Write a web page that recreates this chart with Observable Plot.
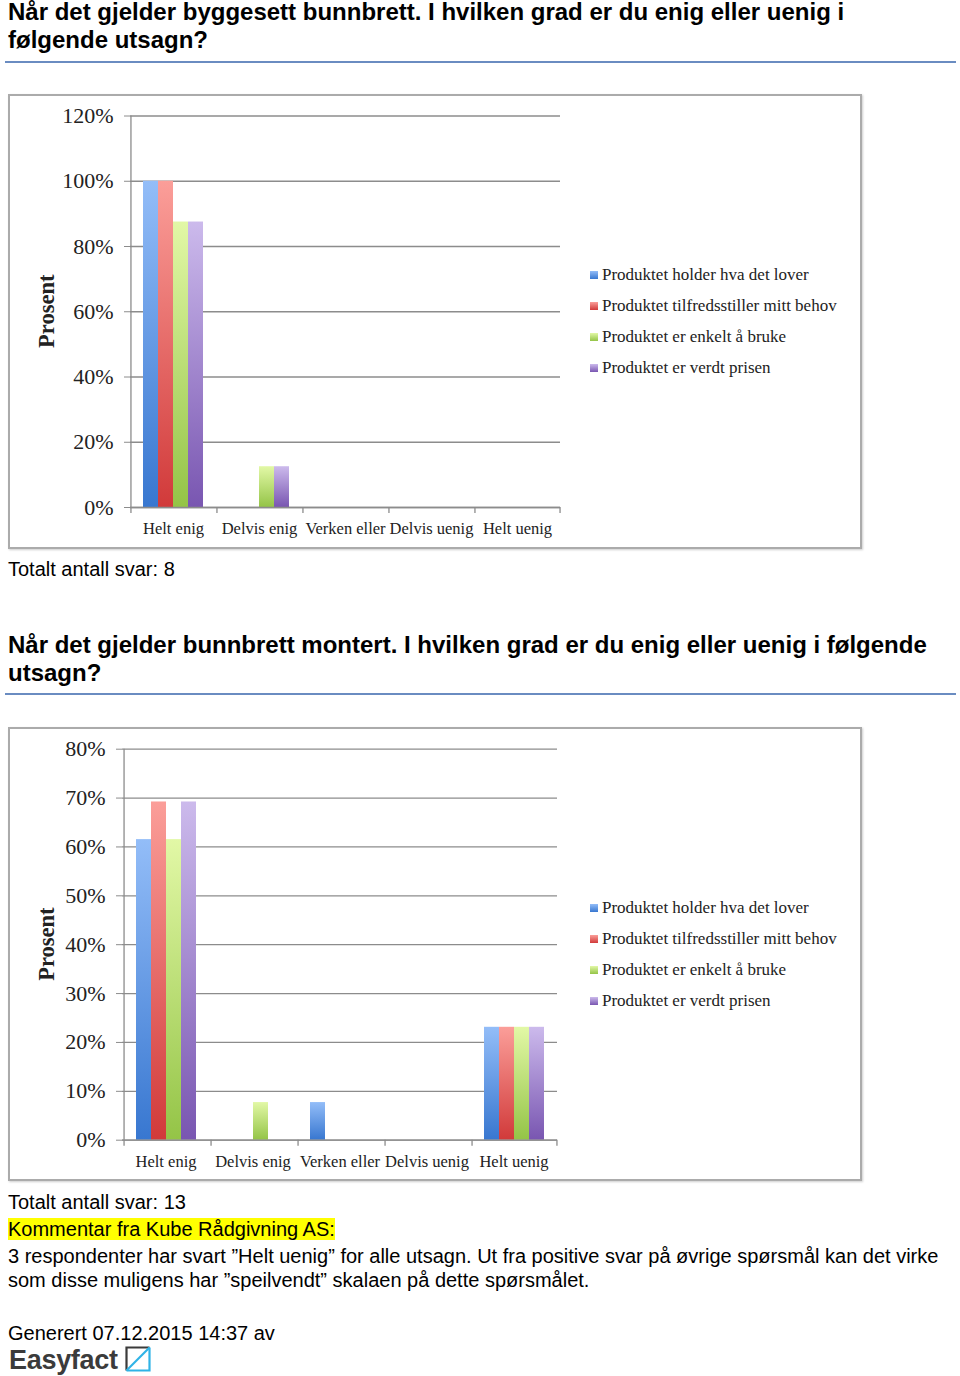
<!DOCTYPE html>
<html>
<head>
<meta charset="utf-8">
<script src="https://cdn.jsdelivr.net/npm/d3@7"></script>
<script src="https://cdn.jsdelivr.net/npm/@observablehq/plot@0.6"></script>
<style>
  html, body { margin: 0; padding: 0; background: #fff; }
  body { position: relative; width: 960px; height: 1376px; font-family: "Liberation Sans", Arial, sans-serif; color: #000; overflow: hidden; }
  .abs { position: absolute; }
  .title { left: 8px; width: 945px; font-weight: bold; font-size: 24px; line-height: 28px; white-space: nowrap; }
  .hr { left: 5px; width: 951px; height: 2px; background: #6a8cc1; }
  .box { left: 8px; width: 854px; background: #fff; }
  .box::after { content: ""; position: absolute; inset: 0; border: 2px solid #ababab; box-shadow: 1px 1px 2px rgba(0,0,0,0.2); pointer-events: none; }
  .box svg { position: absolute; left: 0; top: 0; }
  .note { left: 8px; font-size: 20px; line-height: 24px; white-space: nowrap; }
  .hl { background: #ffff00; }
  .legend { position: absolute; left: 582px; font-family: "Liberation Serif", serif; font-size: 17px; color: #222; }
  .legend .row { position: absolute; left: 0; height: 20px; line-height: 20px; white-space: nowrap; }
  .legend .sw { position: absolute; left: 0; top: 6px; }
  .legend .lbl { position: absolute; left: 12px; top: 0; }
  .logo { left: 9px; top: 1343px; font-weight: bold; font-size: 27px; line-height: 34px; color: #3b3b3b; letter-spacing: -0.3px; }
</style>
</head>
<body>
<script>
// ---------- data ----------
const categories = ["Helt enig", "Delvis enig", "Verken eller", "Delvis uenig", "Helt uenig"];
const seriesNames = [
  "Produktet holder hva det lover",
  "Produktet tilfredsstiller mitt behov",
  "Produktet er enkelt å bruke",
  "Produktet er verdt prisen"
];
// Chart 1: byggesett bunnbrett (n = 8), percent per category
const byggHolder    = [100, 0, 0, 0, 0];
const byggTilfreds  = [100, 0, 0, 0, 0];
const byggEnkelt    = [87.5, 12.5, 0, 0, 0];
const byggVerdt     = [87.5, 12.5, 0, 0, 0];
// Chart 2: bunnbrett montert (n = 13)
const montHolder    = [61.5, 0, 7.7, 0, 23.1];
const montTilfreds  = [69.2, 0, 0, 0, 23.1];
const montEnkelt    = [61.5, 7.7, 0, 0, 23.1];
const montVerdt     = [69.2, 0, 0, 0, 23.1];
const yTicks1 = [0, 20, 40, 60, 80, 100, 120];
const yTicks2 = [0, 10, 20, 30, 40, 50, 60, 70, 80];

const gradTop    = ["#93bdf8", "#fb9e99", "#e2f8a6", "#ccbaec"];
const gradBottom = ["#3877d0", "#d13a3a", "#94c447", "#7956b1"];

// ---------- helpers ----------
function addGradients(svg, id) {
  const defs = d3.select(svg).insert("defs", ":first-child");
  gradTop.forEach((top, i) => {
    const g = defs.append("linearGradient").attr("id", `${id}-g${i}`)
      .attr("x1", 0).attr("y1", 0).attr("x2", 0).attr("y2", 1);
    g.append("stop").attr("offset", "0%").attr("stop-color", top);
    g.append("stop").attr("offset", "100%").attr("stop-color", gradBottom[i]);
  });
}

function buildChart(parent, id, values, yMax, yTicks, m) {
  const rows = [];
  categories.forEach((c, ci) => seriesNames.forEach((s, si) => {
    const v = values[si][ci];
    if (v > 0) rows.push({category: c, series: s, value: v});
  }));
  const W = 854, H = m.height;
  const facetW = (W - m.left - m.right) / categories.length;
  const step = facetW / (seriesNames.length + 2 * m.pad);
  const edge = step * m.pad + step / 2;
  const axisColor = "#8c8c8c";
  const plot = Plot.plot({
    width: W, height: H,
    marginLeft: m.left, marginRight: m.right, marginTop: m.top, marginBottom: m.bottom,
    style: {fontFamily: '"Liberation Serif", serif', fontSize: "16px", color: "#222", background: "transparent", overflow: "visible"},
    fx: {domain: categories, padding: 0, label: null},
    x: {domain: seriesNames, paddingInner: 0, paddingOuter: m.pad, align: 0.5, axis: null},
    y: {domain: [0, yMax], label: null},
    color: {domain: seriesNames, range: seriesNames.map((_, i) => `url(#${id}-g${i})`)},
    marks: [
      Plot.gridY(yTicks, {stroke: axisColor, strokeOpacity: 1, strokeWidth: 1.3}),
      Plot.axisY(yTicks, {tickFormat: d => d + "%", tickSize: 6, tickPadding: 11, fontSize: 22, stroke: axisColor, fill: "#222", label: null}),
      Plot.axisFx({anchor: "bottom", tickSize: 0, tickPadding: 15, fontSize: 16.5, fill: "#222", label: null}),
      Plot.barY(rows, {fx: "category", x: "series", y: "value", fill: "series"}),
      Plot.ruleY([0], {stroke: axisColor, strokeWidth: 1.3}),
      Plot.ruleX([categories[0]], {fx: d => d, x: () => seriesNames[0], y1: 0, y2: yMax, dx: -edge, stroke: axisColor, strokeWidth: 1.3}),
      Plot.ruleX(categories, {fx: d => d, x: () => seriesNames[0], y1: 0, y2: 0, insetTop: 6, dx: -edge, stroke: axisColor, strokeWidth: 1.3}),
      Plot.ruleX([categories[categories.length - 1]], {fx: d => d, x: () => seriesNames[seriesNames.length - 1], y1: 0, y2: 0, insetTop: 6, dx: edge, stroke: axisColor, strokeWidth: 1.3})
    ]
  });
  addGradients(plot, id);
  // y axis title
  d3.select(plot).append("text")
    .attr("transform", `translate(38,${m.top + (H - m.top - m.bottom) / 2}) rotate(-90)`)
    .attr("text-anchor", "middle").attr("dy", "0.35em")
    .attr("font-family", '"Liberation Serif", serif').attr("font-weight", "bold")
    .attr("font-size", 22.5).attr("fill", "#222").text("Prosent");
  parent.appendChild(plot);

  // legend
  const leg = document.createElement("div");
  leg.className = "legend";
  leg.style.top = "0px";
  const rowsY = [181, 212, 243, 274];
  seriesNames.forEach((s, i) => {
    const r = document.createElement("div");
    r.className = "row";
    r.style.top = (rowsY[i] - 10) + "px";
    r.innerHTML = `<svg class="sw" width="8" height="8"><rect width="8" height="8" fill="url(#${id}-g${i})"/></svg><span class="lbl">${s}</span>`;
    leg.appendChild(r);
  });
  parent.appendChild(leg);
}

function el(cls, top, html, extra) {
  const d = document.createElement("div");
  d.className = "abs " + cls;
  d.style.top = top + "px";
  if (extra) Object.assign(d.style, extra);
  d.innerHTML = html;
  document.body.appendChild(d);
  return d;
}

// ---------- layout ----------
el("title", -2, "Når det gjelder byggesett bunnbrett. I hvilken grad er du enig eller uenig i<br>følgende utsagn?");
el("hr", 61, "");
const box1 = el("box", 94, "", {height: "455px"});
buildChart(box1, "c1", [byggHolder, byggTilfreds, byggEnkelt, byggVerdt], 120, yTicks1,
  {height: 455, left: 122, right: 302, top: 21.5, bottom: 42, pad: 0.81});
el("note", 557, "Totalt antall svar: 8");

el("title", 631, "Når det gjelder bunnbrett montert. I hvilken grad er du enig eller uenig i følgende<br>utsagn?");
el("hr", 693, "");
const box2 = el("box", 727, "", {height: "454px"});
buildChart(box2, "c2", [montHolder, montTilfreds, montEnkelt, montVerdt], 80, yTicks2,
  {height: 454, left: 113, right: 304, top: 21.7, bottom: 41.3, pad: 0.76});
el("note", 1190, "Totalt antall svar: 13");
el("note", 1217, '<span class="hl">Kommentar fra Kube Rådgivning AS:</span>');
el("note", 1244, "3 respondenter har svart ”Helt uenig” for alle utsagn. Ut fra positive svar på øvrige spørsmål kan det virke<br>som disse muligens har ”speilvendt” skalaen på dette spørsmålet.");
el("note", 1321, "Generert 07.12.2015 14:37 av");
el("logo", 1343, 'Easyfact <svg width="26" height="26" style="vertical-align:-3px" viewBox="0 0 26 26"><polyline points="1.5,24.5 1.5,1.5 24.5,1.5" fill="none" stroke="#3b3b3b" stroke-width="2.2"/><polyline points="24.5,1.5 24.5,24.5 1.5,24.5" fill="none" stroke="#2fb3e6" stroke-width="2.2"/><line x1="1.5" y1="24.5" x2="24.5" y2="1.5" stroke="#2fb3e6" stroke-width="2.2"/></svg>');
</script>
</body>
</html>
